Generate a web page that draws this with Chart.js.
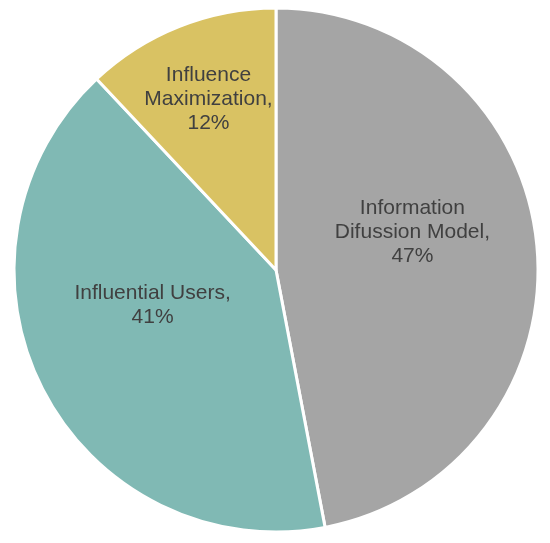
<!DOCTYPE html>
<html>
<head>
<meta charset="utf-8">
<script src="https://cdn.jsdelivr.net/npm/chart.js@4/dist/chart.umd.min.js"></script>
<style>
  html, body { margin: 0; padding: 0; background: #fff; }
  #wrap { width: 550px; height: 543px; }
</style>
</head>
<body>
<div id="wrap"><canvas id="pieChart"></canvas></div>
<script>
const categories = ['Information Difussion Model', 'Influential Users', 'Influence Maximization'];
const shares = [47, 41, 12];
const labelLines = [
    ['Information', 'Difussion Model,', '47%'],
    ['Influential Users,', '41%'],
    ['Influence', 'Maximization,', '12%']
];
const sliceColors = ['#A5A5A5', '#80B9B4', '#D9C263'];

// where each label sits inside its slice (fraction of radius, angle shift in degrees)
const labelPlace = [
    { frac: 0.54, shift: -10 },
    { frac: 0.49, shift: 11 },
    { frac: 0.70, shift: 0 }
];

const sliceLabels = {
    id: 'sliceLabels',
    afterDatasetsDraw(chart) {
        const ctx = chart.ctx;
        const arcs = chart.getDatasetMeta(0).data;
        ctx.save();
        ctx.font = '21px "Liberation Sans", Arial, sans-serif';
        ctx.fillStyle = '#404040';
        ctx.textAlign = 'center';
        ctx.textBaseline = 'middle';
        arcs.forEach((arc, i) => {
            const p = arc.getProps(['x', 'y', 'startAngle', 'endAngle', 'outerRadius'], true);
            const a = (p.startAngle + p.endAngle) / 2 + labelPlace[i].shift * Math.PI / 180;
            const r = p.outerRadius * labelPlace[i].frac;
            const cx = p.x + Math.cos(a) * r;
            const cy = p.y + Math.sin(a) * r;
            const lines = labelLines[i];
            const lh = 24;
            lines.forEach((t, k) => {
                ctx.fillText(t, cx, cy + (k - (lines.length - 1) / 2) * lh);
            });
        });
        ctx.restore();
    }
};

new Chart(document.getElementById('pieChart'), {
    type: 'pie',
    data: {
        labels: categories,
        datasets: [{
            data: shares,
            backgroundColor: sliceColors,
            borderColor: '#ffffff',
            borderWidth: 3,
            hoverOffset: 0,
            radius: 262
        }]
    },
    options: {
        responsive: true,
        maintainAspectRatio: false,
        animation: false,
        layout: { padding: { left: 15, right: 13, top: 9, bottom: 12 } },
        plugins: {
            legend: { display: false },
            tooltip: { enabled: false }
        }
    },
    plugins: [sliceLabels]
});
</script>
</body>
</html>
